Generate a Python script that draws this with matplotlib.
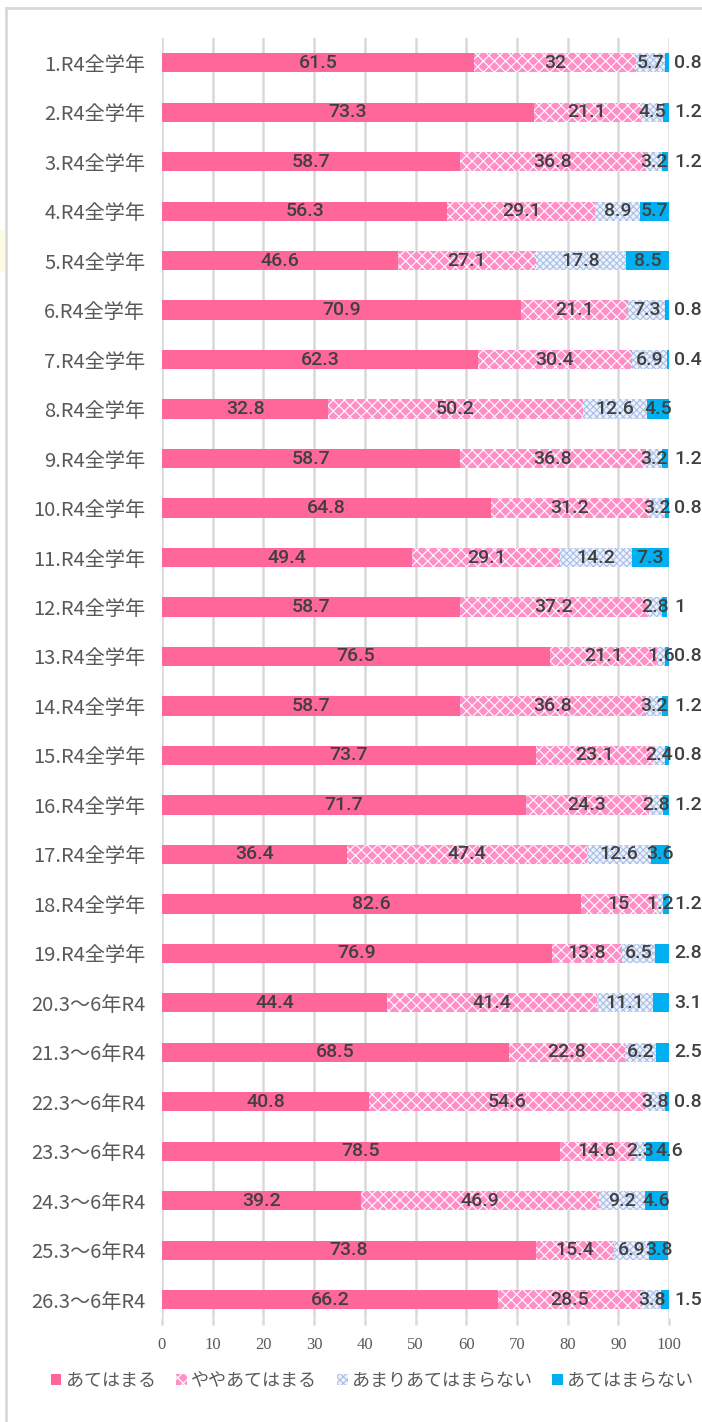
import matplotlib
matplotlib.use("Agg")
import matplotlib.pyplot as plt
import numpy as np
from matplotlib.patches import Patch, Rectangle
from matplotlib.lines import Line2D

plt.rcParams['font.family'] = ['Noto Sans CJK JP', 'DejaVu Sans']
plt.rcParams['hatch.linewidth'] = 0.8

categories = [
    "1.R4全学年", "2.R4全学年", "3.R4全学年", "4.R4全学年", "5.R4全学年",
    "6.R4全学年", "7.R4全学年", "8.R4全学年", "9.R4全学年", "10.R4全学年",
    "11.R4全学年", "12.R4全学年", "13.R4全学年", "14.R4全学年", "15.R4全学年",
    "16.R4全学年", "17.R4全学年", "18.R4全学年", "19.R4全学年",
    "20.3～6年R4", "21.3～6年R4", "22.3～6年R4", "23.3～6年R4",
    "24.3～6年R4", "25.3～6年R4", "26.3～6年R4",
]
series_names = ["あてはまる", "ややあてはまる", "あまりあてはまらない", "あてはまらない"]
s1 = [61.5, 73.3, 58.7, 56.3, 46.6, 70.9, 62.3, 32.8, 58.7, 64.8, 49.4, 58.7, 76.5,
      58.7, 73.7, 71.7, 36.4, 82.6, 76.9, 44.4, 68.5, 40.8, 78.5, 39.2, 73.8, 66.2]
s2 = [32, 21.1, 36.8, 29.1, 27.1, 21.1, 30.4, 50.2, 36.8, 31.2, 29.1, 37.2, 21.1,
      36.8, 23.1, 24.3, 47.4, 15, 13.8, 41.4, 22.8, 54.6, 14.6, 46.9, 15.4, 28.5]
s3 = [5.7, 4.5, 3.2, 8.9, 17.8, 7.3, 6.9, 12.6, 3.2, 3.2, 14.2, 2.8, 1.6,
      3.2, 2.4, 2.8, 12.6, 1.2, 6.5, 11.1, 6.2, 3.8, 2.3, 9.2, 6.9, 3.8]
s4 = [0.8, 1.2, 1.2, 5.7, 8.5, 0.8, 0.4, 4.5, 1.2, 0.8, 7.3, 1, 0.8,
      1.2, 0.8, 1.2, 3.6, 1.2, 2.8, 3.1, 2.5, 0.8, 4.6, 4.6, 3.8, 1.5]
xticks = [0, 10, 20, 30, 40, 50, 60, 70, 80, 90, 100]

W, H = 702, 1422
fig = plt.figure(figsize=(W / 100, H / 100), dpi=100)
ax = fig.add_axes([162 / W, 1 - 1318 / H, (669 - 162) / W, (1318 - 38) / H])

y = np.arange(len(categories))
styles = [
    dict(color="#FF6699", edgecolor="#FF6699", hatch=None),
    dict(color="#FF8FC7", edgecolor="white", hatch="xxx"),
    dict(color="#EEF2FB", edgecolor="#A9BFE8", hatch="xxxxx"),
    dict(color="#00B0F0", edgecolor="#00B0F0", hatch=None),
]
data = [s1, s2, s3, s4]
left = np.zeros(len(categories))
label_font = dict(family=['Roboto', 'DejaVu Sans'], fontsize=14, fontweight='medium',
                  color="#404040")
for k, (vals, st) in enumerate(zip(data, styles)):
    vals = np.array(vals, dtype=float)
    ax.barh(y, vals, left=left, height=0.39, color=st["color"], edgecolor=st["edgecolor"],
            hatch=st["hatch"], linewidth=0, zorder=3, label=series_names[k])
    for i, v in enumerate(vals):
        if k == 3 and v < 3.5:
            ax.text(101.0, y[i], f"{v:g}", ha="left", va="center", zorder=5,
                    clip_on=False, **label_font)
        elif k == 3 and data[2][i] < 3:
            ax.text(100.0, y[i], f"{v:g}", ha="center", va="center", zorder=5,
                    clip_on=False, **label_font)
        else:
            ax.text(left[i] + v / 2, y[i], f"{v:g}", ha="center", va="center",
                    zorder=5, clip_on=False, **label_font)
    left = left + vals

ax.set_xlim(0, 100)
ax.set_ylim(25.37, -0.5)
ax.set_yticks(y)
ax.set_yticklabels(categories, fontsize=14.5, color="#595959")
ax.tick_params(axis="y", length=0, pad=12)
ax.set_xticks(xticks)
ax.set_xticklabels([str(t) for t in xticks], family="Liberation Serif", fontsize=12,
                   color="#595959")
ax.tick_params(axis="x", length=5, width=1.8, color="#D9D9D9", pad=9)
ax.grid(axis="x", color="#D9D9D9", linewidth=1.8, zorder=0)
ax.set_axisbelow(True)
for sp in ax.spines.values():
    sp.set_visible(False)

handles = [Patch(facecolor=st["color"], edgecolor=st["edgecolor"], hatch=st["hatch"],
                 linewidth=0, label=n) for st, n in zip(styles, series_names)]
fig.legend(handles=handles, loc="center", bbox_to_anchor=(372 / W, 1 - 1381 / H), ncol=4,
           frameon=False, fontsize=13, handlelength=0.6, handleheight=0.6,
           handletextpad=0.25, columnspacing=1.1, labelcolor="#595959",
           borderaxespad=0, borderpad=0)

# chart border and outside tint
fig.add_artist(Rectangle((0, 1 - 272 / H), 5 / W, 42 / H, transform=fig.transFigure,
                         facecolor="#FBFBE6", edgecolor="none"))
fig.add_artist(Line2D([6 / W, 6 / W], [0, 1 - 8 / H], color="#D9D9D9", lw=2,
                      transform=fig.transFigure))
fig.add_artist(Line2D([6 / W, 1], [1 - 8 / H, 1 - 8 / H], color="#D9D9D9", lw=2,
                      transform=fig.transFigure))

fig.savefig("out.png", dpi=100)
